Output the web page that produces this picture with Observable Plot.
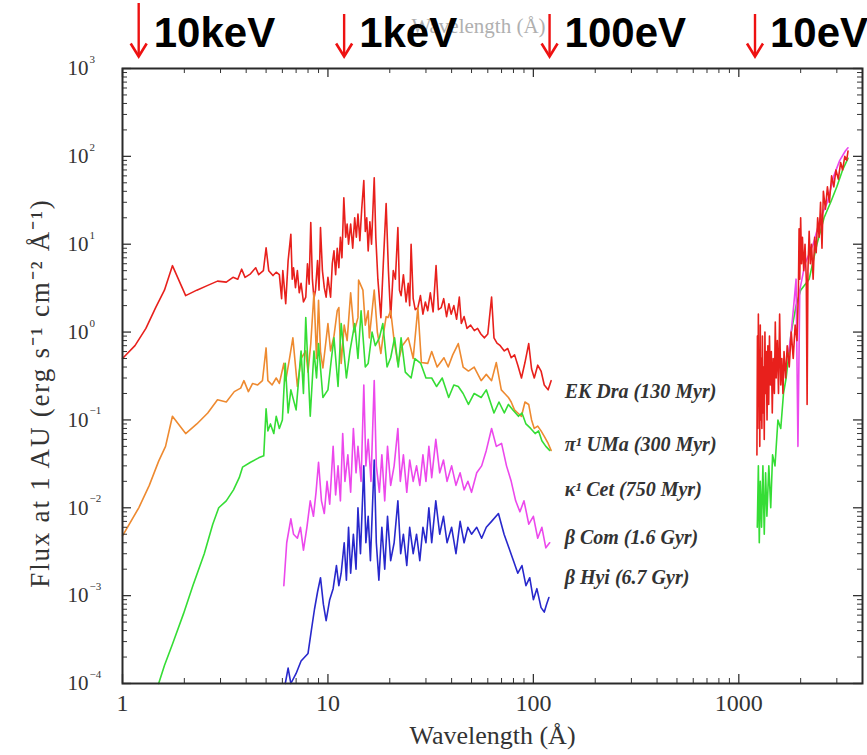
<!DOCTYPE html>
<html><head><meta charset="utf-8">
<script src="https://cdn.jsdelivr.net/npm/d3@7"></script>
<script src="https://cdn.jsdelivr.net/npm/@observablehq/plot@0.6"></script>
<style>html,body{margin:0;padding:0;background:#fff;overflow:hidden}</style>
</head><body><div id="chart"></div>
<script>
// ---------- data (wavelength in Å, flux in erg s^-1 cm^-2 Å^-1 at 1 AU) ----------
const starNames = ["EK Dra (130 Myr)", "π¹ UMa (300 Myr)", "κ¹ Cet (750 Myr)", "β Com (1.6 Gyr)", "β Hyi (6.7 Gyr)"];
const starColors = ["#e8201c", "#ee8a30", "#35dd35", "#ec48ec", "#2828cc"];

const ekDraXray = [[1.00,0.50],[1.15,0.70],[1.30,1.10],[1.45,1.9],[1.60,3.0],[1.75,5.7],[2.03,2.6],[2.3,3.0],[2.6,3.4],[2.9,3.8],[3.2,3.7],[3.45,4.2],[3.64,4.0],[3.8,5.2],[3.95,4.2],[4.2,4.6],[4.45,5.4],[4.6,4.5],[4.85,5.0],[5.0,9.1],[5.15,5.0],[5.4,4.4],[5.6,4.8],[5.8,4.5],[5.95,2.4],[6.03,5.0],[6.15,3.0],[6.23,2.1],[6.4,6.5],[6.6,13],[6.7,4.0],[6.8,5.4],[6.95,3.2],[7.1,5.0],[7.25,2.8],[7.4,3.6],[7.6,2.2],[7.8,2.5],[7.95,6.0],[8.1,3.5],[8.25,17.6],[8.4,4.0],[8.55,2.4],[8.7,3.0],[8.9,6.5],[9.05,3.0],[9.2,15.5],[9.4,5.0],[9.6,3.2],[9.8,2.5],[10.0,4.2],[10.3,2.5],[10.5,6.0],[10.7,8.4],[10.9,4.5],[11.1,9.0],[11.3,5.4],[11.5,12],[11.7,7.0],[11.95,33.7],[12.2,12],[12.4,17],[12.6,10],[12.9,17],[13.2,9.0],[13.5,20],[13.75,12],[14.0,22],[14.3,11],[14.6,25],[14.95,53],[15.2,14],[15.45,20],[15.7,8.4],[16.0,18],[16.3,10],[16.8,57],[17.1,12],[17.5,4.0],[18.1,1.46],[18.6,6.0],[19.2,29],[19.7,5.0],[20.2,1.46],[20.8,5.0],[21.3,4.0],[21.9,15.5],[22.3,3.0],[22.7,2.6],[23.3,4.5],[24.0,2.2],[24.6,3.6],[25.0,2.0],[25.4,10],[26.0,2.4],[26.6,1.8],[27.4,1.9],[28.2,2.6],[29.0,1.6],[29.8,2.2],[30.6,1.75],[31.5,2.8],[32.5,1.7],[33.6,5.7],[34.5,1.8],[35.6,1.9],[36.6,2.4],[37.8,1.5],[38.8,2.1],[39.8,1.6],[41.0,2.0],[42.3,1.4],[43.6,2.5],[44.6,1.25],[46.0,1.5],[47.5,1.1],[49.5,1.2],[51.6,1.04],[53.5,1.1],[55.5,0.95],[57.8,0.86],[60.0,0.95],[62.6,2.5],[64.3,0.86],[66.5,0.75],[69.0,0.7],[72.2,0.61],[75.0,0.65],[78.0,0.51],[81.0,0.55],[84.0,0.42],[87.5,0.30],[91.0,0.45],[94.9,0.74],[98.0,0.38],[101,0.30],[105,0.42],[109,0.36],[113,0.25],[118,0.22],[122,0.28]];

const piUMaXray = [[1.0,0.0048],[1.2,0.01],[1.35,0.018],[1.5,0.034],[1.62,0.05],[1.75,0.11],[2.03,0.07],[2.3,0.09],[2.6,0.12],[2.9,0.17],[3.2,0.16],[3.5,0.21],[3.76,0.23],[3.9,0.28],[4.1,0.21],[4.3,0.26],[4.55,0.25],[4.8,0.28],[5.0,0.66],[5.1,0.28],[5.35,0.25],[5.6,0.3],[5.8,0.26],[6.1,0.44],[6.23,0.28],[6.5,0.5],[6.75,0.86],[7.1,0.24],[7.4,0.5],[7.8,0.61],[8.0,0.35],[8.25,0.74],[8.55,2.8],[8.8,0.5],[9.0,2.3],[9.2,0.6],[9.45,0.39],[10.0,1.25],[10.3,0.61],[10.7,0.9],[11.1,1.75],[11.3,1.9],[11.6,0.44],[12.0,1.2],[12.4,0.8],[12.9,2.8],[13.4,1.0],[14.0,1.46],[14.1,3.9],[14.8,3.0],[15.2,1.2],[15.7,1.75],[15.9,0.86],[16.8,3.0],[17.4,1.0],[18.1,0.57],[18.5,0.86],[19.2,1.5],[19.6,1.46],[20.2,1.75],[21.0,0.8],[21.9,0.44],[23.0,0.7],[24.6,0.86],[26.0,0.5],[27.4,1.9],[28.5,0.45],[30.6,0.44],[32.0,0.6],[34.0,0.4],[36.7,0.51],[38.5,0.4],[40.5,0.55],[43.1,0.74],[45.5,0.4],[48.3,0.36],[51.5,0.4],[55.7,0.28],[59.0,0.33],[62.6,0.28],[66.0,0.45],[69.8,0.22],[72.5,0.2],[75.6,0.18],[78.0,0.16],[80.9,0.13],[84.0,0.12],[87.5,0.11],[91.0,0.16],[94.9,0.15],[98.0,0.1],[101,0.08],[105,0.085],[109,0.075],[113,0.065],[118,0.054],[122,0.045]];

const kapCetXray = [[1.5,0.0001],[1.6,0.00016],[1.75,0.00028],[1.98,0.00062],[2.2,0.0013],[2.5,0.003],[2.75,0.0065],[2.94,0.01],[3.2,0.012],[3.47,0.016],[3.7,0.022],[3.84,0.029],[4.2,0.033],[4.6,0.037],[4.87,0.039],[5.0,0.134],[5.1,0.075],[5.25,0.09],[5.45,0.07],[5.6,0.11],[5.8,0.08],[6.0,0.1],[6.2,0.44],[6.4,0.12],[6.6,0.22],[7.0,0.13],[7.4,0.61],[7.6,0.2],[7.8,1.46],[8.2,0.11],[8.55,0.61],[8.8,0.3],[9.0,0.74],[9.45,0.18],[10.0,0.22],[10.4,0.5],[10.7,0.86],[11.2,0.24],[11.6,1.25],[12.3,0.3],[12.8,0.61],[13.5,1.25],[14.0,0.5],[14.5,1.75],[15.2,0.4],[15.7,0.44],[16.4,1.0],[17.0,0.7],[17.8,0.86],[18.5,1.25],[19.4,0.4],[20.2,0.51],[21.1,0.86],[22.0,0.4],[22.7,0.86],[23.8,0.35],[25.4,0.3],[26.5,0.5],[28.3,0.44],[30.0,0.3],[32.0,0.3],[33.8,0.24],[36.0,0.3],[38.7,0.18],[41.0,0.25],[43.1,0.24],[45.5,0.2],[48.3,0.15],[51.5,0.2],[55.7,0.18],[59.0,0.22],[64.3,0.12],[68.0,0.16],[72.2,0.12],[75.6,0.15],[79.5,0.13],[84.6,0.11],[88.0,0.12],[92.0,0.09],[97.0,0.08],[102,0.07],[106,0.075],[110,0.058],[115,0.05],[120,0.045]];

const betComXray = [[6.1,0.0013],[6.3,0.004],[6.6,0.0075],[6.8,0.005],[7.1,0.0045],[7.35,0.006],[7.6,0.0033],[7.9,0.006],[8.2,0.012],[8.5,0.008],[8.75,0.015],[9.0,0.033],[9.3,0.012],[9.6,0.0086],[9.9,0.02],[10.2,0.011],[10.6,0.05],[10.9,0.014],[11.2,0.03],[11.5,0.012],[11.8,0.07],[12.1,0.02],[12.5,0.04],[12.9,0.015],[13.3,0.08],[13.7,0.025],[14.0,0.05],[14.5,0.02],[14.95,0.25],[15.3,0.03],[15.7,0.06],[16.2,0.02],[16.8,0.28],[17.2,0.03],[17.8,0.015],[18.3,0.04],[18.9,0.012],[19.5,0.05],[20.2,0.018],[21.0,0.03],[21.9,0.08],[22.5,0.02],[23.3,0.04],[24.2,0.015],[25.0,0.035],[26.0,0.02],[27.0,0.03],[28.0,0.018],[29.0,0.04],[30.0,0.02],[31.0,0.05],[32.0,0.022],[33.5,0.06],[35.0,0.025],[36.5,0.035],[38.0,0.02],[40.0,0.03],[42.0,0.018],[44.0,0.025],[46.0,0.016],[48.0,0.02],[50.0,0.015],[53.0,0.025],[56.0,0.03],[59.0,0.045],[62.6,0.08],[66.0,0.05],[70.0,0.054],[74.0,0.03],[78.0,0.02],[82.0,0.012],[86.0,0.009],[90.0,0.012],[95.0,0.0065],[100,0.008],[105,0.0045],[110,0.006],[115,0.0035],[120,0.004]];

const betHyiXray = [[6.2,0.0001],[6.4,0.00015],[6.6,0.0001],[7.0,0.00013],[7.4,0.00018],[8.0,0.00022],[8.3,0.0004],[8.6,0.0007],[8.9,0.0011],[9.2,0.0016],[9.5,0.0008],[9.8,0.00052],[10.2,0.0009],[10.6,0.0012],[11.0,0.0022],[11.3,0.0013],[11.6,0.0018],[12.0,0.004],[12.3,0.0015],[12.6,0.006],[12.9,0.0018],[13.3,0.005],[13.7,0.002],[14.0,0.01],[14.4,0.003],[14.95,0.03],[15.3,0.004],[15.7,0.008],[16.1,0.0025],[16.8,0.035],[17.2,0.004],[17.7,0.0015],[18.3,0.006],[18.9,0.002],[19.5,0.008],[20.2,0.0025],[21.0,0.004],[21.9,0.012],[22.6,0.003],[23.3,0.005],[24.2,0.0022],[25.0,0.006],[26.0,0.003],[27.0,0.005],[28.0,0.0025],[29.0,0.006],[30.0,0.004],[31.0,0.01],[32.0,0.004],[33.5,0.012],[35.0,0.005],[36.5,0.008],[38.0,0.004],[40.0,0.006],[42.0,0.003],[44.0,0.007],[46.0,0.004],[48.0,0.006],[50.0,0.005],[53.0,0.006],[56.0,0.0045],[59.0,0.006],[62.6,0.007],[67.6,0.0086],[72.0,0.005],[76.0,0.0035],[80.0,0.0025],[84.0,0.0018],[88.0,0.0022],[92.0,0.0013],[96.0,0.0016],[100,0.0009],[104,0.0012],[109,0.00073],[113,0.00065],[116,0.0008],[119,0.00095]];

const kapCetUV = [[1230,0.006],[1245,0.03],[1258,0.004],[1272,0.02],[1290,0.006],[1310,0.03],[1330,0.005],[1350,0.025],[1370,0.008],[1400,0.03],[1430,0.01],[1460,0.04],[1500,0.03],[1550,0.1],[1600,0.08],[1650,0.2],[1700,0.3],[1800,1.0],[1900,2.0],[2000,3.0],[2200,4.0],[2400,10],[2600,20],[2800,30],[3000,45],[3200,70],[3400,95]];
const betComUV = [[1750,0.6],[1800,1.0],[1850,2.0],[1900,4.0],[1940,0.05],[1980,3.0],[2100,6.0],[2300,10],[2500,20],[2700,30],[2900,60],[3100,90],[3300,115],[3400,125]];
const ekDraUV = [[1225,0.04],[1232,0.9],[1238,0.08],[1245,1.6],[1252,0.15],[1258,0.6],[1265,0.05],[1272,1.2],[1280,0.1],[1288,0.5],[1295,0.08],[1303,0.9],[1312,0.12],[1320,0.4],[1330,0.06],[1340,1.0],[1350,0.2],[1360,0.6],[1372,0.1],[1385,0.7],[1398,0.15],[1410,0.9],[1425,0.25],[1440,0.6],[1455,0.12],[1470,0.5],[1490,0.2],[1505,1.3],[1520,0.3],[1540,0.8],[1560,0.2],[1580,1.6],[1600,0.25],[1620,0.5],[1640,0.2],[1660,0.6],[1690,0.3],[1720,0.7],[1760,0.4],[1800,1.0],[1840,0.5],[1880,1.2],[1920,0.8],[1950,3],[1965,15],[1980,4],[2000,20],[2020,6],[2040,12],[2070,5],[2100,10],[2130,4],[2150,0.15],[2170,5],[2200,14],[2230,6],[2260,10],[2300,4],[2340,12],[2380,8],[2420,20],[2460,12],[2500,30],[2540,9],[2580,40],[2640,25],[2700,45],[2760,30],[2830,60],[2900,45],[2970,70],[3050,55],[3130,85],[3200,70],[3280,100],[3350,90],[3400,115]];

const xTickLabels = [1, 10, 100, 1000];
const yTickExponents = [-4, -3, -2, -1, 0, 1, 2, 3];
const energyLabels = ["10keV", "1keV", "100eV", "10eV"];
const energyWavelengths = [1.24, 12.4, 124, 1240];
const labelWavelength = [142, 142, 142, 142, 142];
const labelFlux = [0.21, 0.052, 0.016, 0.0046, 0.0016];

// ---------- build ----------
const W = 867, H = 755, mL = 122, mR = 5, mT = 68, mB = 72;
const innerW = W - mL - mR, innerH = H - mT - mB;
const serif = "Liberation Serif, Times New Roman, serif";
const sans = "Liberation Sans, Arial, sans-serif";

const toRows = (star, arr) => arr.map(([wl, flux]) => ({star, wl, flux}));
const xrayRows = [
  ...toRows(starNames[0], ekDraXray),
  ...toRows(starNames[1], piUMaXray),
  ...toRows(starNames[2], kapCetXray),
  ...toRows(starNames[3], betComXray),
  ...toRows(starNames[4], betHyiXray)
];
const uvRows = [
  ...toRows(starNames[2], kapCetUV),
  ...toRows(starNames[3], betComUV),
  ...toRows(starNames[0], ekDraUV)
];

const xDomain = [1, 4000], yDomain = [1e-4, 1e3];
const isPow10 = v => Math.abs(Math.log10(v) - Math.round(Math.log10(v))) < 1e-9;
const xTicksAll = d3.scaleLog().domain(xDomain).ticks();
const yTicksAll = d3.scaleLog().domain(yDomain).ticks();
const xMinor = xTicksAll.filter(v => !isPow10(v) && v < 4000);
const yMinor = yTicksAll.filter(v => !isPow10(v));
const xMajor = xTicksAll.filter(isPow10);
const yMajor = yTicksAll.filter(isPow10);

const tickStroke = "#333";
const energies = energyLabels.map((label, i) => ({label, wl: energyWavelengths[i]}));
const starLabelRows = starNames.map((name, i) => ({name, wl: labelWavelength[i], flux: labelFlux[i]}));
const yLabelRows = yTickExponents.map(e => ({v: Math.pow(10, e), e}));

// open "V" arrow head, tip at the anchor point
const chevron = {draw(ctx) { ctx.moveTo(-8, -13); ctx.lineTo(0, 0); ctx.lineTo(8, -13); }};
const arrowRed = "#ee1111";
const tipY = 56; // px of arrow tips

const yTitle = "Flux at 1 AU (erg s⁻¹ cm⁻² Å⁻¹)";

const chart = Plot.plot({
  width: W, height: H,
  marginLeft: mL, marginRight: mR, marginTop: mT, marginBottom: mB,
  x: {type: "log", domain: xDomain, axis: null},
  y: {type: "log", domain: yDomain, axis: null},
  color: {domain: starNames, range: starColors},
  style: {fontFamily: serif, background: "#fff", overflow: "visible"},
  marks: [
    // ghost top axis title
    Plot.text(["Wavelength (Å)"], {frameAnchor: "top", dx: -14, dy: -50, fontSize: 21, fill: "#b0b0b0", fontFamily: serif}),
    // spectra
    Plot.line(xrayRows, {x: "wl", y: "flux", z: "star", stroke: "star", strokeWidth: 1.6, curve: "linear"}),
    Plot.line(uvRows, {x: "wl", y: "flux", z: "star", stroke: "star", strokeWidth: 1.6, curve: "linear"}),
    // frame and inward ticks on all sides
    Plot.tickX(xMinor, {x: d => d, insetTop: innerH - 5, stroke: tickStroke}),
    Plot.tickX(xMajor, {x: d => d, insetTop: innerH - 9, stroke: tickStroke, strokeWidth: 1.3}),
    Plot.tickX(xMinor, {x: d => d, insetBottom: innerH - 5, stroke: tickStroke}),
    Plot.tickX(xMajor, {x: d => d, insetBottom: innerH - 9, stroke: tickStroke, strokeWidth: 1.3}),
    Plot.tickY(yMinor, {y: d => d, insetRight: innerW - 5, stroke: tickStroke}),
    Plot.tickY(yMajor, {y: d => d, insetRight: innerW - 9, stroke: tickStroke, strokeWidth: 1.3}),
    Plot.tickY(yMinor, {y: d => d, insetLeft: innerW - 5, stroke: tickStroke}),
    Plot.tickY(yMajor, {y: d => d, insetLeft: innerW - 9, stroke: tickStroke, strokeWidth: 1.3}),
    Plot.frame({stroke: "#2a2a2a", strokeWidth: 2}),
    // x tick labels
    Plot.text(xTickLabels, {x: d => d, frameAnchor: "bottom", lineAnchor: "top", dy: 10, text: d => String(d), fontSize: 24, fill: "#333", fontFamily: serif}),
    // y tick labels (10 + superscript exponent)
    Plot.text(yLabelRows, {y: "v", frameAnchor: "left", textAnchor: "end", dx: -34, text: () => "10", fontSize: 21, fill: "#333", fontFamily: serif}),
    Plot.text(yLabelRows, {y: "v", frameAnchor: "left", textAnchor: "start", dx: -33, dy: -9, text: d => (d.e < 0 ? "−" : "") + Math.abs(d.e), fontSize: 11, fill: "#333", fontFamily: serif}),
    // axis titles
    Plot.text(["Wavelength (Å)"], {frameAnchor: "bottom", dy: 60, fontSize: 26, fill: "#333", fontFamily: serif}),
    Plot.text([yTitle], {frameAnchor: "left", textAnchor: "middle", dx: -82, dy: 17, rotate: -90, fontSize: 27, fill: "#333", fontFamily: serif}),
    // star labels
    Plot.text(starLabelRows, {x: "wl", y: "flux", text: "name", textAnchor: "start", fontSize: 20, fontWeight: "bold", fontStyle: "italic", fill: "#333", fontFamily: serif}),
    // energy arrows (stem + open head) and labels
    Plot.ruleX(energies.slice(0, 1), {x: "wl", dx: -3, insetTop: 3 - mT, insetBottom: H - mB - tipY, stroke: arrowRed, strokeWidth: 2.4}),
    Plot.ruleX(energies.slice(1), {x: "wl", dx: -3, insetTop: 14 - mT, insetBottom: H - mB - tipY, stroke: arrowRed, strokeWidth: 2.4}),
    Plot.dot(energies, {x: "wl", frameAnchor: "top", dx: -3, dy: tipY - mT, symbol: chevron, fill: "none", stroke: arrowRed, strokeWidth: 2.6, strokeLinejoin: "miter"}),
    Plot.text(energies, {x: "wl", frameAnchor: "top", lineAnchor: "bottom", textAnchor: "start", dx: 12, dy: -22, text: "label", fontSize: 42, fontWeight: "bold", fill: "#000", fontFamily: sans})
  ]
});
// the reference's rotated axis title is set with wide letter spacing
chart.querySelectorAll("text").forEach(t => { if (t.textContent === yTitle) t.style.letterSpacing = "1.8px"; });
document.getElementById("chart").appendChild(chart);
</script>
</body></html>
